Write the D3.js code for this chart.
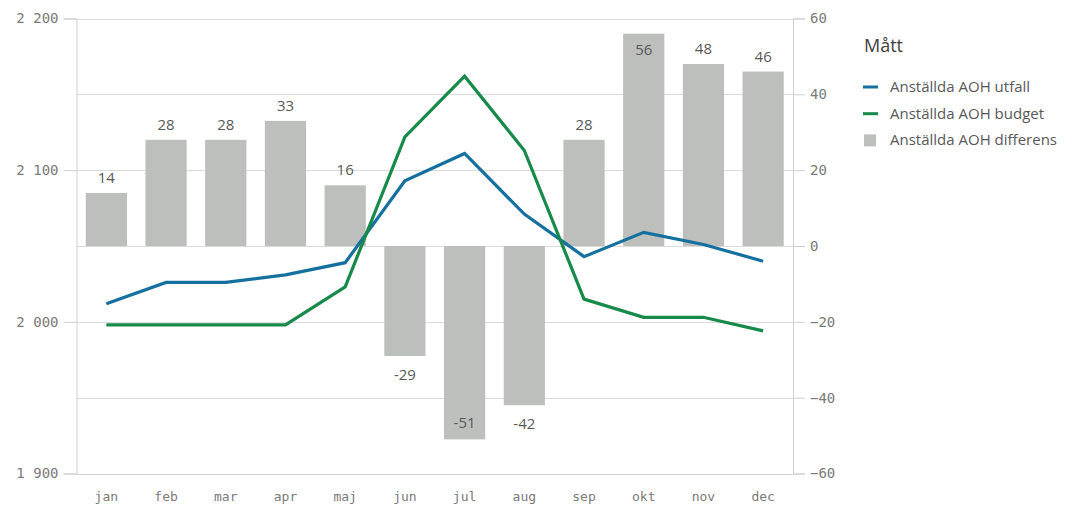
<!DOCTYPE html>
<html>
<head>
<meta charset="utf-8">
<script src="https://cdn.jsdelivr.net/npm/d3@7"></script>
<style>
  body { margin: 0; background: #fff; }
  svg { display: block; }
  .axis text { font-family: "DejaVu Sans Mono", monospace; fill: #7a7a7a; }
  .lbl { font-family: "Open Sans", "Noto Sans", sans-serif; font-size: 15px; fill: #595959; }
  .legend text { font-family: "Open Sans", "Noto Sans", sans-serif; fill: #595959; }
</style>
</head>
<body>
<svg id="chart" width="1085" height="507"></svg>
<script>
var months = ["jan", "feb", "mar", "apr", "maj", "jun", "jul", "aug", "sep", "okt", "nov", "dec"];
var utfall = [2012, 2026, 2026, 2031, 2039, 2093, 2111, 2071, 2043, 2059, 2051, 2040];
var budget = [1998, 1998, 1998, 1998, 2023, 2122, 2162, 2113, 2015, 2003, 2003, 1994];
var differens = [14, 28, 28, 33, 16, -29, -51, -42, 28, 56, 48, 46];
var leftTicks = [1900, 2000, 2100, 2200];
var rightTicks = [-60, -40, -20, 0, 20, 40, 60];
var seriesNames = ["Anställda AOH utfall", "Anställda AOH budget", "Anställda AOH differens"];

var colBlue = "#16709f", colGreen = "#178a49", colBar = "#bcbfbc";

var svg = d3.select("#chart");
var plotLeft = 76.5, plotRight = 793, plotTop = 18.5, plotBottom = 473.5;

var x = d3.scaleBand().domain(months).range([plotLeft, plotRight])
    .paddingInner(0.31).paddingOuter(0.155);
var yL = d3.scaleLinear().domain([1900, 2200]).range([plotBottom, plotTop]);
var yR = d3.scaleLinear().domain([-60, 60]).range([plotBottom, plotTop]);

var loc = d3.formatLocale({decimal: ",", thousands: " ", grouping: [3], currency: ["", ""]});
var fmt = loc.format(",d");

// gridlines from the right axis ticks
svg.append("g")
    .selectAll("line")
    .data(rightTicks)
    .enter().append("line")
    .attr("x1", plotLeft).attr("x2", plotRight)
    .attr("y1", function(d) { return Math.round(yR(d)) + 0.5; })
    .attr("y2", function(d) { return Math.round(yR(d)) + 0.5; })
    .attr("stroke", function(d) { return d === -60 ? "#cfcfcf" : "#dcdcdc"; })
    .attr("stroke-width", 1);

// bars
svg.append("g")
    .selectAll("rect")
    .data(differens)
    .enter().append("rect")
    .attr("x", function(d, i) { return x(months[i]); })
    .attr("width", x.bandwidth())
    .attr("y", function(d) { return yR(Math.max(0, d)); })
    .attr("height", function(d) { return Math.abs(yR(d) - yR(0)); })
    .attr("fill", colBar);

// bar labels: outside when there's room, else inside
svg.append("g")
    .selectAll("text")
    .data(differens)
    .enter().append("text")
    .attr("class", "lbl")
    .attr("text-anchor", "middle")
    .attr("x", function(d, i) { return x(months[i]) + x.bandwidth() / 2; })
    .attr("y", function(d) {
        var end = yR(d);
        if (d >= 0) {
            return (end - plotTop) < 35 ? end + 21 : end - 10;
        }
        return (plotBottom - end) < 35 ? end - 11 : end + 24;
    })
    .text(function(d) { return d; });

// lines
var line = d3.line()
    .x(function(d, i) { return x(months[i]) + x.bandwidth() / 2; })
    .y(function(d) { return yL(d); });

svg.append("path").datum(utfall)
    .attr("d", line).attr("fill", "none")
    .attr("stroke", colBlue).attr("stroke-width", 3.2);
svg.append("path").datum(budget)
    .attr("d", line).attr("fill", "none")
    .attr("stroke", colGreen).attr("stroke-width", 3.2);

// left axis
var gl = svg.append("g").attr("class", "axis")
    .attr("transform", "translate(" + plotLeft + ",0)")
    .call(d3.axisLeft(yL).tickValues(leftTicks).tickFormat(fmt).tickSize(13).tickPadding(5));
gl.selectAll("text").style("font-size", "14px");

// right axis
var gr = svg.append("g").attr("class", "axis")
    .attr("transform", "translate(" + plotRight + ",0)")
    .call(d3.axisRight(yR).tickValues(rightTicks).tickSize(12).tickPadding(5));
gr.selectAll("text").style("font-size", "14px");

// bottom axis
var gb = svg.append("g").attr("class", "axis")
    .attr("transform", "translate(0," + plotBottom + ")")
    .call(d3.axisBottom(x).tickSize(0).tickPadding(18));
gb.selectAll("text").style("font-size", "13px");

svg.selectAll(".axis path").attr("stroke", "#cfcfcf");
svg.selectAll(".axis line").attr("stroke", "#cfcfcf");
gb.select("path").remove();

// legend
var lg = svg.append("g").attr("class", "legend");
lg.append("text").attr("x", 864).attr("y", 52)
    .style("font-size", "18px").style("fill", "#404040").text("Mått");

var items = lg.selectAll("g.item")
    .data(seriesNames)
    .enter().append("g").attr("class", "item")
    .attr("transform", function(d, i) { return "translate(863," + (87 + i * 26.7) + ")"; });

items.each(function(d, i) {
    var g = d3.select(this);
    if (i < 2) {
        g.append("rect").attr("x", 0).attr("y", -1.5).attr("width", 15).attr("height", 3)
            .attr("fill", i === 0 ? colBlue : colGreen);
    } else {
        g.append("rect").attr("x", 1).attr("y", -6).attr("width", 12).attr("height", 12)
            .attr("fill", colBar);
    }
    g.append("text").attr("x", 27).attr("y", 5).style("font-size", "15px").text(d);
});
</script>
</body>
</html>
